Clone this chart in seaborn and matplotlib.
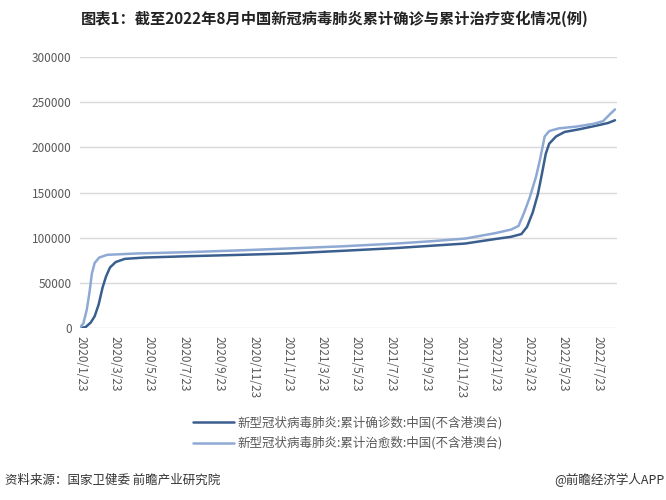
import pandas as pd
import numpy as np
import matplotlib
matplotlib.use('Agg')
import matplotlib.pyplot as plt
import seaborn as sns

# values
confirmed_dates = ['2020-01-22', '2020-02-01', '2020-02-10', '2020-02-17', '2020-02-24',
                   '2020-03-02', '2020-03-08', '2020-03-15', '2020-03-25', '2020-04-10',
                   '2020-05-15', '2020-08-01', '2020-11-01', '2021-01-23', '2021-05-01',
                   '2021-08-01', '2021-10-01', '2021-12-01', '2022-01-23', '2022-02-20',
                   '2022-03-10', '2022-03-20', '2022-03-30', '2022-04-08', '2022-04-15',
                   '2022-04-22', '2022-04-28', '2022-05-10', '2022-05-25', '2022-06-20',
                   '2022-07-20', '2022-08-10', '2022-08-22']
confirmed_vals = [0, 1000, 6000, 13000, 26000,
                  45000, 57000, 67000, 73000, 76500,
                  78000, 79500, 81000, 82500, 85500,
                  88500, 91000, 93500, 98500, 101000,
                  104000, 112000, 128000, 148000, 170000,
                  193000, 204000, 212000, 217000, 220000,
                  224000, 227000, 230000]

cured_dates = ['2020-01-22', '2020-01-28', '2020-02-03', '2020-02-08', '2020-02-12',
               '2020-02-17', '2020-02-25', '2020-03-10', '2020-05-01', '2020-08-01',
               '2020-11-01', '2021-01-23', '2021-05-01', '2021-08-01', '2021-10-01',
               '2021-12-01', '2022-01-23', '2022-02-20', '2022-03-05', '2022-03-15',
               '2022-03-25', '2022-04-05', '2022-04-12', '2022-04-20', '2022-04-28',
               '2022-05-15', '2022-06-15', '2022-07-15', '2022-08-01', '2022-08-12',
               '2022-08-22']
cured_vals = [500, 5000, 20000, 40000, 60000,
              72000, 78000, 81000, 82500, 84000,
              86000, 88000, 90500, 93500, 96000,
              99000, 105000, 109000, 113000, 128000,
              145000, 168000, 187000, 212000, 218000,
              221000, 223000, 226000, 229000, 236000,
              242000]

series_names = ['新型冠状病毒肺炎:累计确诊数:中国(不含港澳台)',
                '新型冠状病毒肺炎:累计治愈数:中国(不含港澳台)']
tick_labels = ['2020/1/23', '2020/3/23', '2020/5/23', '2020/7/23', '2020/9/23', '2020/11/23',
               '2021/1/23', '2021/3/23', '2021/5/23', '2021/7/23', '2021/9/23', '2021/11/23',
               '2022/1/23', '2022/3/23', '2022/5/23', '2022/7/23']
y_ticks = [0, 50000, 100000, 150000, 200000, 250000, 300000]

df = pd.concat([
    pd.DataFrame({'date': pd.to_datetime(confirmed_dates), 'value': confirmed_vals, 'series': series_names[0]}),
    pd.DataFrame({'date': pd.to_datetime(cured_dates), 'value': cured_vals, 'series': series_names[1]}),
])

sns.set_style('white')
plt.rcParams['font.family'] = ['Noto Sans CJK SC', 'DejaVu Sans']

fig = plt.figure(figsize=(6.66, 5), dpi=100)
ax = fig.add_axes([0.12, 0.344, 0.806, 0.542])

sns.lineplot(data=df, x='date', y='value', hue='series', hue_order=series_names,
             palette=['#3A5F8F', '#8EA9D3'], linewidth=1.8, ax=ax)

ax.set_ylim(0, 300000)
ax.set_yticks(y_ticks)
ax.set_yticklabels([str(v) for v in y_ticks], fontsize=8.5, color='#595959')
ax.set_xlim(pd.Timestamp('2020-01-22'), pd.Timestamp('2022-08-25'))
tick_pos = pd.to_datetime(tick_labels, format='%Y/%m/%d')
ax.set_xticks(tick_pos)
ax.set_xticklabels(tick_labels, rotation=270, fontsize=8.5, color='#595959', va='top', ha='center')
ax.tick_params(axis='both', length=0, pad=6)
ax.set_xlabel('')
ax.set_ylabel('')
ax.grid(axis='y', color='#D9D9D9', linewidth=1)
ax.set_axisbelow(True)
for s in ax.spines.values():
    s.set_visible(False)

handles, labels = ax.get_legend_handles_labels()
ax.get_legend().remove()
leg = fig.legend(handles, labels, loc='upper left', bbox_to_anchor=(0.282, 0.178), frameon=False,
                 fontsize=9, handlelength=3.3, handletextpad=0.3, labelspacing=0.55, borderaxespad=0)
for t in leg.get_texts():
    t.set_color('#595959')

fig.text(0.502, 0.962, '图表1：截至2022年8月中国新冠病毒肺炎累计确诊与累计治疗变化情况(例)',
         ha='center', va='center', fontsize=11, fontweight='bold', color='#222222')
fig.text(0.008, 0.04, '资料来源：国家卫健委 前瞻产业研究院', ha='left', va='center',
         fontsize=9, color='#333333')
fig.text(0.997, 0.04, '@前瞻经济学人APP', ha='right', va='center', fontsize=9, color='#333333')

fig.savefig('out.png', dpi=100)
